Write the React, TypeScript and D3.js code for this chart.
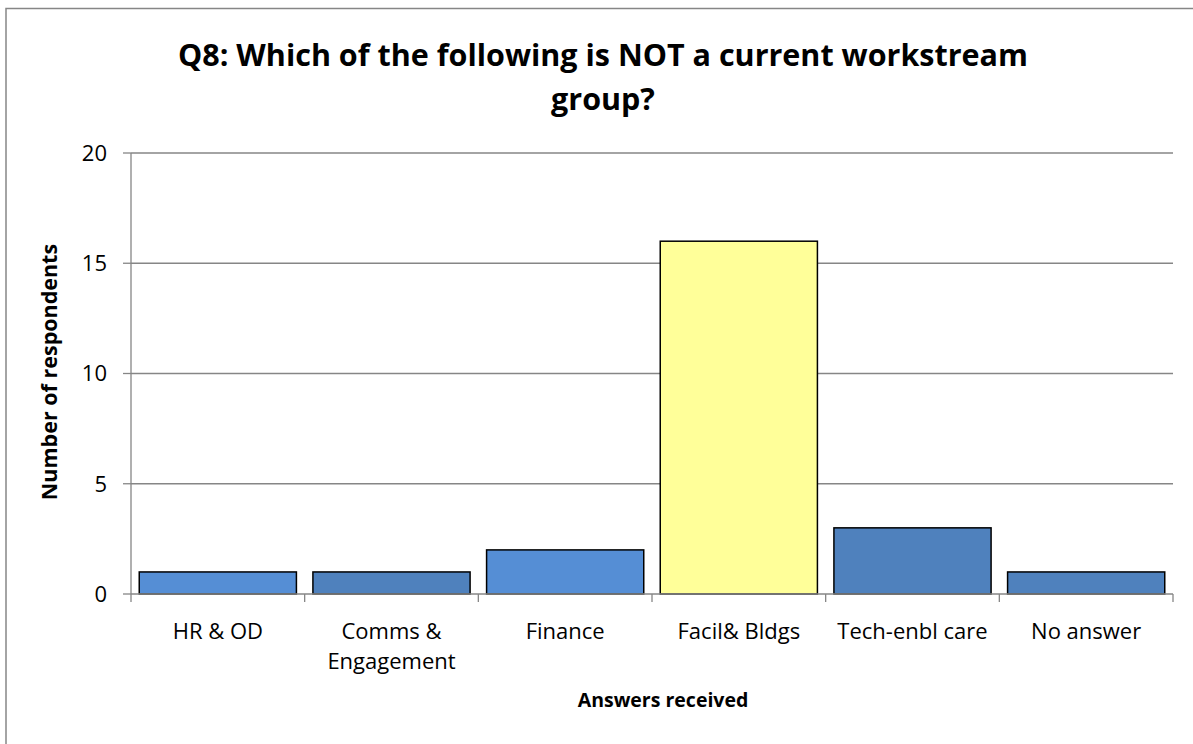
import { useEffect, useRef } from 'react'
import * as d3 from 'd3'

const categories = ['HR & OD', 'Comms & Engagement', 'Finance', 'Facil& Bldgs', 'Tech-enbl care', 'No answer']
const values = [1, 1, 2, 16, 3, 1]
const barColors = ['#558ED5', '#4F81BD', '#558ED5', '#FFFF99', '#4F81BD', '#4F81BD']
const tickLabelLines: Record<string, string[]> = {
  'Comms & Engagement': ['Comms &', 'Engagement'],
}
const yTicks = [0, 5, 10, 15, 20]

const W = 1193
const H = 744
const FONT = '"Open Sans", "Liberation Sans", sans-serif'

export default function App() {
  const svgRef = useRef<SVGSVGElement>(null)

  useEffect(() => {
    if (!svgRef.current) return
    const svg = d3.select(svgRef.current)
    svg.selectAll('*').remove()

    const margin = { top: 153, left: 131 }
    const innerWidth = 1173 - margin.left
    const innerHeight = 594 - margin.top

    // outer chart border
    svg
      .append('rect')
      .attr('x', 6)
      .attr('y', 8.5)
      .attr('width', W + 20)
      .attr('height', H + 20)
      .attr('fill', 'white')
      .attr('stroke', '#868686')
      .attr('stroke-width', 1.5)

    // title
    const title = svg
      .append('text')
      .attr('text-anchor', 'middle')
      .attr('font-family', FONT)
      .attr('font-weight', 'bold')
      .attr('font-size', 30.5)
      .attr('fill', '#000')
    title.append('tspan').attr('x', 603).attr('y', 66).text('Q8: Which of the following is NOT a current workstream')
    title.append('tspan').attr('x', 603).attr('y', 110).text('group?')

    const x = d3.scaleBand<string>().domain(categories).range([0, innerWidth]).paddingInner(0.095).paddingOuter(0.0475)
    const xTick = d3.scaleBand<string>().domain(categories).range([0, innerWidth])
    const y = d3.scaleLinear().domain([0, 20]).range([innerHeight, 0])

    const g = svg.append('g').attr('transform', `translate(${margin.left},${margin.top})`)

    // gridlines
    g.selectAll('line.grid')
      .data(yTicks.filter((t) => t > 0))
      .enter()
      .append('line')
      .attr('x1', 0)
      .attr('x2', innerWidth)
      .attr('y1', (d) => y(d))
      .attr('y2', (d) => y(d))
      .attr('stroke', '#868686')
      .attr('stroke-width', 1.3)

    // bars
    g.selectAll('rect.bar')
      .data(categories)
      .enter()
      .append('rect')
      .attr('x', (d) => x(d) || 0)
      .attr('y', (_, i) => y(values[i]))
      .attr('width', x.bandwidth())
      .attr('height', (_, i) => innerHeight - y(values[i]))
      .attr('fill', (_, i) => barColors[i])
      .attr('stroke', '#000')
      .attr('stroke-width', 1.5)

    // y axis line and ticks
    g.append('line')
      .attr('x1', 0)
      .attr('x2', 0)
      .attr('y1', 0)
      .attr('y2', innerHeight)
      .attr('stroke', '#868686')
      .attr('stroke-width', 1.3)
    g.selectAll('line.ytick')
      .data(yTicks)
      .enter()
      .append('line')
      .attr('x1', -8)
      .attr('x2', 0)
      .attr('y1', (d) => y(d))
      .attr('y2', (d) => y(d))
      .attr('stroke', '#868686')
      .attr('stroke-width', 1.3)
    g.selectAll('text.ylab')
      .data(yTicks)
      .enter()
      .append('text')
      .attr('x', -24)
      .attr('y', (d) => y(d))
      .attr('dy', '0.36em')
      .attr('text-anchor', 'end')
      .attr('font-family', FONT)
      .attr('font-size', 22)
      .attr('fill', '#000')
      .text((d) => d)

    // x axis line and ticks
    g.append('line')
      .attr('x1', 0)
      .attr('x2', innerWidth)
      .attr('y1', innerHeight)
      .attr('y2', innerHeight)
      .attr('stroke', '#868686')
      .attr('stroke-width', 1.3)
    const tickPos = categories.map((c) => xTick(c) || 0).concat([innerWidth])
    g.selectAll('line.xtick')
      .data(tickPos)
      .enter()
      .append('line')
      .attr('x1', (d) => d)
      .attr('x2', (d) => d)
      .attr('y1', innerHeight)
      .attr('y2', innerHeight + 8)
      .attr('stroke', '#868686')
      .attr('stroke-width', 1.3)

    const xl = g
      .selectAll('text.xlab')
      .data(categories)
      .enter()
      .append('text')
      .attr('text-anchor', 'middle')
      .attr('font-family', FONT)
      .attr('font-size', 22)
      .attr('fill', '#000')
    xl.each(function (d) {
      const lines = tickLabelLines[d] || [d]
      const t = d3.select(this)
      lines.forEach((ln, i) => {
        t.append('tspan')
          .attr('x', (xTick(d) || 0) + xTick.bandwidth() / 2)
          .attr('y', innerHeight + 45 + i * 30)
          .text(ln)
      })
    })

    // axis titles
    svg
      .append('text')
      .attr('x', 663)
      .attr('y', 707)
      .attr('text-anchor', 'middle')
      .attr('font-family', FONT)
      .attr('font-weight', 'bold')
      .attr('font-size', 19.5)
      .text('Answers received')
    svg
      .append('text')
      .attr('transform', `translate(57,372) rotate(-90)`)
      .attr('text-anchor', 'middle')
      .attr('font-family', FONT)
      .attr('font-weight', 'bold')
      .attr('font-size', 21.5)
      .text('Number of respondents')
  }, [])

  return (
    <svg
      ref={svgRef}
      width={W}
      height={H}
      style={{ display: 'block', position: 'absolute', left: 0, top: 0, background: 'white' }}
    />
  )
}
